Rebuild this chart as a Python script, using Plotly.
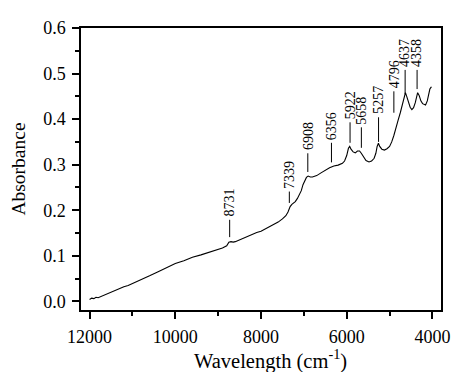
import plotly.graph_objects as go

# Spectrum
wavenumber = [12000, 11950, 11900, 11850, 11800, 11700, 11600, 11500, 11400, 11300,
              11200, 11100, 11000, 10800, 10600, 10400, 10200, 10000, 9800, 9600,
              9400, 9200, 9000, 8900, 8800, 8750, 8700, 8650, 8600, 8500,
              8400, 8300, 8200, 8100, 8000, 7900, 7800, 7700, 7600, 7500,
              7420, 7370, 7320, 7280, 7200, 7150, 7100, 7060, 7020, 6980,
              6940, 6900, 6850, 6800, 6700, 6600, 6500, 6400, 6300, 6200,
              6100, 6050, 6000, 5960, 5930, 5900, 5850, 5800, 5750, 5700,
              5660, 5600, 5550, 5480, 5420, 5360, 5320, 5290, 5260, 5230,
              5180, 5120, 5060, 5000, 4950, 4900, 4850, 4800, 4750, 4700,
              4660, 4630, 4600, 4560, 4520, 4480, 4440, 4400, 4370, 4345,
              4310, 4270, 4230, 4190, 4160, 4120, 4090, 4060, 4030, 4020]
absorbance = [0.004, 0.007, 0.006, 0.009, 0.008, 0.012, 0.016, 0.021, 0.025, 0.029,
              0.032, 0.035, 0.039, 0.048, 0.056, 0.065, 0.074, 0.083, 0.089, 0.097,
              0.102, 0.108, 0.114, 0.117, 0.122, 0.130, 0.131, 0.130, 0.131, 0.135,
              0.140, 0.144, 0.147, 0.151, 0.154, 0.159, 0.163, 0.168, 0.174, 0.181,
              0.188, 0.196, 0.208, 0.213, 0.219, 0.226, 0.234, 0.243, 0.256, 0.265,
              0.272, 0.275, 0.273, 0.273, 0.276, 0.282, 0.288, 0.293, 0.297, 0.299,
              0.303, 0.308, 0.320, 0.336, 0.340, 0.334, 0.328, 0.326, 0.330, 0.330,
              0.325, 0.315, 0.309, 0.306, 0.308, 0.314, 0.325, 0.340, 0.347, 0.340,
              0.334, 0.332, 0.335, 0.340, 0.350, 0.364, 0.383, 0.398, 0.414, 0.430,
              0.448, 0.458, 0.450, 0.436, 0.426, 0.421, 0.425, 0.436, 0.450, 0.458,
              0.452, 0.440, 0.434, 0.432, 0.431, 0.440, 0.455, 0.466, 0.470, 0.471]

# Peak labels (text) and where their marker lines stand on the wavenumber axis
peak_labels = [8731, 7339, 6908, 6356, 5922, 5658, 5257, 4796, 4637, 4358]
peak_marker_x = [8731, 7339, 6908, 6356, 5922, 5658, 5257, 4900, 4637, 4358]
peak_line_bottom = [0.141, 0.216, 0.284, 0.305, 0.348, 0.337, 0.350, 0.414, 0.455, 0.466]
peak_line_top = [0.179, 0.241, 0.325, 0.348, 0.393, 0.382, 0.404, 0.461, 0.508, 0.508]

y_ticks = [0.0, 0.1, 0.2, 0.3, 0.4, 0.5, 0.6]
x_ticks = [12000, 10000, 8000, 6000, 4000]

FONT = "Liberation Serif"

fig = go.Figure()
fig.add_trace(go.Scatter(x=wavenumber, y=absorbance, mode="lines",
                         line=dict(color="black", width=1.1), showlegend=False,
                         hoverinfo="skip"))

for lab, wn, yb, yt in zip(peak_labels, peak_marker_x, peak_line_bottom, peak_line_top):
    fig.add_shape(type="line", xref="x", yref="y", x0=wn, x1=wn, y0=yb, y1=yt,
                  line=dict(color="black", width=1))
    fig.add_annotation(x=wn, y=yt, xref="x", yref="y", text=str(lab),
                       textangle=-90, showarrow=False, yanchor="bottom",
                       xanchor="center", yshift=1,
                       font=dict(family=FONT, size=14, color="black"))

# x-axis title placed as an annotation to match its horizontal position
fig.add_annotation(x=0.527, y=-0.174, xref="paper", yref="paper",
                   text="Wavelength (cm<sup>-1</sup>)", showarrow=False,
                   xanchor="center", yanchor="middle",
                   font=dict(family=FONT, size=20.5, color="black"))

axis_common = dict(showline=True, linecolor="black", linewidth=1.5, mirror=True,
                   ticks="outside", ticklen=7, tickwidth=1.5, tickcolor="black",
                   showgrid=False, zeroline=False,
                   tickfont=dict(family=FONT, size=18, color="black"))

fig.update_xaxes(range=[12200, 3800], tickvals=x_ticks,
                 ticktext=[str(v) for v in x_ticks],
                 ticklabelstandoff=3,
                 minor=dict(dtick=1000, tick0=0, ticks="outside", ticklen=4,
                            tickwidth=1.5, tickcolor="black"),
                 **axis_common)
fig.update_yaxes(range=[-0.019, 0.6], tickvals=y_ticks,
                 ticktext=[f"{v:.1f}" for v in y_ticks],
                 ticklabelstandoff=3,
                 minor=dict(dtick=0.05, tick0=0, ticks="outside", ticklen=4,
                            tickwidth=1.5, tickcolor="black"),
                 title=dict(text="Absorbance", standoff=12,
                            font=dict(family=FONT, size=19.5, color="black")),
                 **axis_common)

# The page body adds an 8px margin, so the figure is sized to fit the window
fig.update_layout(width=452, height=364, margin=dict(l=73, r=10, t=12, b=62),
                  paper_bgcolor="white", plot_bgcolor="white",
                  font=dict(family=FONT, color="black"))

fig.write_html("out.html")
